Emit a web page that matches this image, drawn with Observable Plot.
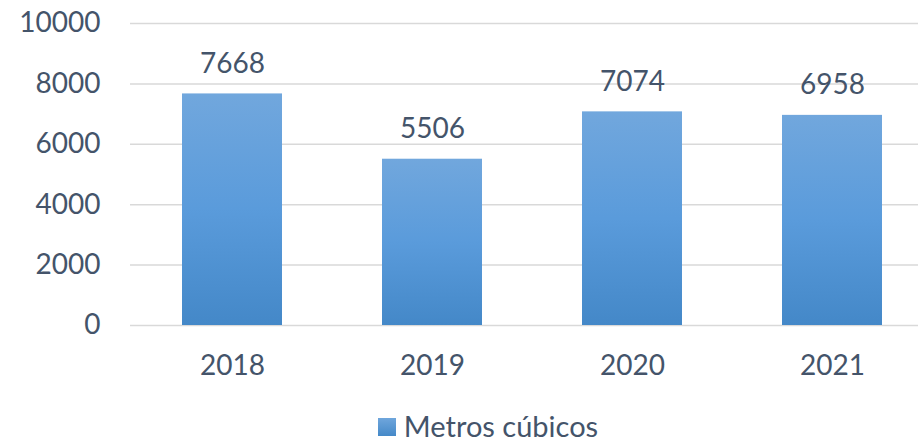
<!DOCTYPE html>
<html>
<head>
<meta charset="utf-8">
<script src="https://cdn.jsdelivr.net/npm/d3@7"></script>
<script src="https://cdn.jsdelivr.net/npm/@observablehq/plot@0.6"></script>
<style>
  body { margin: 0; background: #fff; font-family: Lato, "Open Sans", sans-serif; }
  #legend { height: 42px; display: flex; align-items: center; justify-content: center; padding-left: 58px; padding-top: 8px; box-sizing: border-box; width: 918px; color: #44546a; font-size: 29px; }
  #legend .sw { width: 18px; height: 18px; margin-right: 8px; margin-top: 4px; background: linear-gradient(#6fa6dc, #4589c8); }
</style>
</head>
<body>
<div id="chart"></div>
<div id="legend"><span class="sw"></span><span>Metros cúbicos</span></div>
<script>
const years = ["2018", "2019", "2020", "2021"];
const values = [7668, 5506, 7074, 6958];
const yTicks = [0, 2000, 4000, 6000, 8000, 10000];
const seriesName = "Metros cúbicos";

const data = years.map((y, i) => ({year: y, value: values[i]}));
const textColor = "#44546a";

const plot = Plot.plot({
  width: 918,
  height: 400,
  marginTop: 23,
  marginBottom: 75,
  marginLeft: 130,
  marginRight: 0,
  style: {fontFamily: "Lato, 'Open Sans', sans-serif", fontSize: "28px", color: textColor, background: "#fff"},
  x: {domain: years, range: [130, 933], paddingInner: 0.5, paddingOuter: 0.25, label: null, tickSize: 0, tickPadding: 30},
  y: {domain: [0, 10000], ticks: yTicks, label: null, tickSize: 0, tickPadding: 30},
  marks: [
    Plot.ruleY(yTicks, {stroke: "#d9d9d9", strokeWidth: 1.5}),
    Plot.barY(data, {x: "year", y: "value", fill: "url(#barGrad)"}),
    Plot.text(data, {x: "year", y: "value", text: d => String(d.value), dy: -30, fill: textColor, fontSize: 28}),
    Plot.axisX({tickSize: 0, tickPadding: 30, fontSize: 28, fill: textColor}),
    Plot.axisY({ticks: yTicks, tickSize: 0, tickPadding: 30, fontSize: 28, fill: textColor, tickFormat: d => String(d)})
  ]
});

const svg = d3.select(plot);
const defs = svg.insert("defs", ":first-child");
const g = defs.append("linearGradient").attr("id", "barGrad").attr("x1", 0).attr("y1", 0).attr("x2", 0).attr("y2", 1);
g.append("stop").attr("offset", "0%").attr("stop-color", "#71a7dd");
g.append("stop").attr("offset", "50%").attr("stop-color", "#5a9bdb");
g.append("stop").attr("offset", "100%").attr("stop-color", "#4488c8");

document.getElementById("chart").appendChild(plot);
</script>
</body>
</html>
